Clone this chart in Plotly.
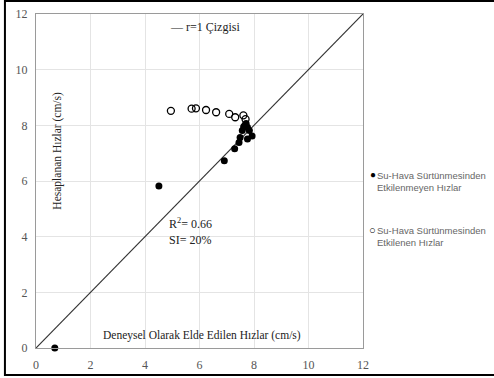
import plotly.graph_objects as go

# Measured (x) vs. computed (y) velocities, cm/s
unaffected_x = [0.69, 4.51, 6.91, 7.29, 7.45, 7.49, 7.57, 7.67, 7.71, 7.76, 7.83, 7.76, 7.93, 7.62]
unaffected_y = [0.00, 5.82, 6.73, 7.16, 7.38, 7.56, 7.81, 8.01, 8.07, 7.93, 7.81, 7.51, 7.62, 7.95]

affected_x = [4.95, 5.71, 5.87, 6.24, 6.61, 7.09, 7.31, 7.61, 7.69]
affected_y = [8.52, 8.60, 8.61, 8.55, 8.47, 8.41, 8.29, 8.36, 8.22]

line_x = [0, 12]
line_y = [0, 12]

tick_vals = [0, 2, 4, 6, 8, 10, 12]

name_unaffected = "Su-Hava Sürtünmesinden<br>Etkilenmeyen Hızlar"
name_affected = "Su-Hava Sürtünmesinden<br>Etkilenen Hızlar"

SERIF = "Liberation Serif, Times New Roman, serif"
SANS = "Liberation Sans, Arial, sans-serif"

fig = go.Figure()

fig.add_trace(go.Scatter(
    x=line_x, y=line_y, mode="lines", name="r=1 Çizgisi",
    line=dict(color="#333333", width=1.2), showlegend=False, hoverinfo="skip",
))
fig.add_trace(go.Scatter(
    x=unaffected_x, y=unaffected_y, mode="markers", name=name_unaffected,
    marker=dict(symbol="circle", size=7, color="black"),
    showlegend=False, cliponaxis=False,
))
fig.add_trace(go.Scatter(
    x=affected_x, y=affected_y, mode="markers", name=name_affected,
    marker=dict(symbol="circle-open", size=7, color="black", line=dict(width=1.3)),
    showlegend=False, cliponaxis=False,
))

axis_common = dict(
    range=[0, 12], tickvals=tick_vals, ticks="",
    showgrid=True, gridcolor="#e4e4e4", gridwidth=1,
    showline=True, linecolor="#9a9a9a", linewidth=1.3, mirror=True,
    zeroline=False, tickfont=dict(family=SERIF, size=12, color="#555555"),
    ticklabelstandoff=5, automargin=False,
)

fig.update_layout(
    width=494, height=378,
    margin=dict(l=36, r=131, t=14, b=30),
    paper_bgcolor="white", plot_bgcolor="white",
    xaxis=dict(**axis_common),
    yaxis=dict(**axis_common),
    showlegend=False,
)

# Outer frame of the figure
fig.add_shape(type="rect", xref="paper", yref="paper",
              x0=-0.095, x1=1.45, y0=-0.081, y1=1.039,
              line=dict(color="black", width=2), layer="above")

# Axis titles placed inside the plotting area
fig.add_annotation(text="Deneysel Olarak Elde Edilen Hızlar (cm/s)",
                   xref="x", yref="y", x=6.1, y=0.45, showarrow=False,
                   font=dict(family=SERIF, size=11.5, color="#222222"))
fig.add_annotation(text="Hesaplanan Hızlar (cm/s)", textangle=-90,
                   xref="x", yref="y", x=0.78, y=7.1, showarrow=False,
                   font=dict(family=SERIF, size=11.5, color="#222222"))

# Fit statistics
fig.add_annotation(text="R<sup>2</sup>= 0.66<br>SI= 20%", align="left",
                   xref="x", yref="y", x=4.8, y=4.2, xanchor="left",
                   showarrow=False,
                   font=dict(family=SERIF, size=12, color="#222222"))

# Key for the r=1 line
fig.add_annotation(text="— r=1 Çizgisi", xref="x", yref="y",
                   x=4.85, y=11.55, xanchor="left", showarrow=False,
                   font=dict(family=SERIF, size=12, color="#222222"))

# Series key on the right
fig.add_annotation(text="●", xref="paper", yref="y", x=1.015, y=6.22,
                   xanchor="left", showarrow=False,
                   font=dict(family=SANS, size=10, color="black"))
fig.add_annotation(text=name_unaffected, xref="paper", yref="y", x=1.037, y=5.98,
                   xanchor="left", align="left", showarrow=False,
                   font=dict(family=SANS, size=9.5, color="#666666"))
fig.add_annotation(text="○", xref="paper", yref="y", x=1.013, y=4.25,
                   xanchor="left", showarrow=False,
                   font=dict(family=SANS, size=11, color="black"))
fig.add_annotation(text=name_affected, xref="paper", yref="y", x=1.037, y=4.0,
                   xanchor="left", align="left", showarrow=False,
                   font=dict(family=SANS, size=9.5, color="#666666"))

fig.write_html("out.html")
